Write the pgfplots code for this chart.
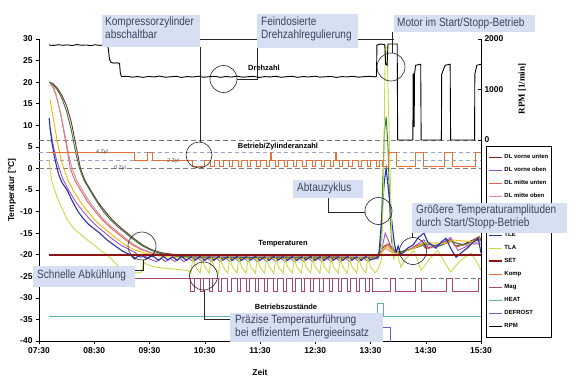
\documentclass[border=0pt]{standalone}
\usepackage{fontspec}
\setmainfont{Liberation Sans}
\newfontfamily\condfont[FakeStretch=0.84]{Liberation Sans}
\newfontfamily\timesf{Liberation Serif}
\usepackage{pgfplots}
\pgfplotsset{compat=1.18}
\definecolor{cVU}{RGB}{122,40,40}
\definecolor{cVO}{RGB}{160,80,200}
\definecolor{cMU}{RGB}{228,96,96}
\definecolor{cMO}{RGB}{215,140,150}
\definecolor{cHU}{RGB}{46,122,58}
\definecolor{cHO}{RGB}{240,184,0}
\definecolor{cTLE}{RGB}{40,50,170}
\definecolor{cTLA}{RGB}{200,218,70}
\definecolor{cSET}{RGB}{140,20,20}
\definecolor{cKomp}{RGB}{228,112,52}
\definecolor{cMag}{RGB}{168,70,110}
\definecolor{cHeat}{RGB}{96,176,176}
\definecolor{cDef}{RGB}{110,90,200}
\definecolor{boxblue}{RGB}{214,224,242}
\definecolor{boxtext}{RGB}{60,68,92}
\definecolor{refgray}{RGB}{125,125,125}
\definecolor{refblue}{RGB}{150,165,195}
\begin{document}
\begin{tikzpicture}
\path[use as bounding box] (0,0) rectangle (584bp,380bp);
\begin{axis}[
  scale only axis, width=442bp, height=302bp,
  at={(39bp,39bp)}, anchor=south west,
  xmin=0, xmax=480, ymin=-40, ymax=30,
  axis x line*=bottom, axis y line*=left, axis line style={-, black, line width=0.6bp},
  xtick={0,60,...,480},
  xticklabels={07:30,08:30,09:30,10:30,11:30,12:30,13:30,14:30,15:30},
  ytick={-40,-35,...,30},
  tick align=outside, major tick length=3bp, tick style={black, line width=0.5bp},
  /pgf/number format/assume math mode=true,
  tick label style={font=\bfseries\fontsize{8.5}{9}\selectfont},
  xlabel={Zeit}, ylabel={Temperatur [°C]},
  label style={font=\bfseries\fontsize{8.5}{9}\selectfont},
  xlabel style={at={(axis description cs:0.5,-0.103)}, anchor=center},
  ylabel style={at={(axis description cs:-0.061,0.5)}, anchor=center},
  legend cell align=left,
  legend style={at={(axis description cs:1.0113,0.6457)}, anchor=north west,
    draw=black, line width=0.5bp, fill=white,
    font=\bfseries\fontsize{6}{6}\selectfont,
    inner xsep=2bp, inner ysep=7bp, row sep=5.1bp,
    nodes={inner sep=1.2bp, text height=4.5bp, text depth=1bp}},
  legend image code/.code={\draw[#1] (0bp,0bp) -- (13bp,0bp);},
  every axis plot/.append style={line width=0.9bp},
]
% reference lines
\addplot[refgray, dashed, line width=0.8bp, dash pattern=on 5bp off 3bp, forget plot] coordinates {(0,6.6) (480,6.6)};
\addplot[refblue, dashed, line width=0.6bp, dash pattern=on 4bp off 3bp, forget plot] coordinates {(0,3.8) (480,3.8)};
\addplot[refblue, dashed, line width=0.6bp, dash pattern=on 4bp off 3bp, forget plot] coordinates {(0,1.8) (480,1.8)};
\addplot[refgray, dashed, line width=0.8bp, dash pattern=on 5bp off 3bp, forget plot] coordinates {(0,0) (480,0)};
\addplot[refgray, dashed, line width=0.8bp, dash pattern=on 5bp off 3bp, forget plot] coordinates {(0,-25.4) (480,-25.4)};

% DL vorne unten
\addplot[cVU] coordinates {(11,20)(15,19.7)(20,18.6)(25,16.9)(30,14.5)(35,10.8)(40,5.5)(45,0)(50,-2.8)(56,-5)(64,-7.8)(72,-10)(80,-12)(88,-13.6)(96,-15)(104,-16.4)(113,-17.8)(122,-18.8)(132,-19.5)(145,-19.9)(160,-20.1)(180,-20.2)(200,-20.4)(230,-20.3)(260,-20.4)(290,-20.3)(320,-20.4)(350,-20.2)(366,-20.2)(370,-19.5)(375,-18)(380,-17.5)(385,-18.8)(392,-19.5)(400,-19)(410,-18)(416,-17.5)(420,-18.5)(430,-18)(440,-17)(447,-16.5)(452,-18)(462,-17.5)(472,-16.5)(478,-15.8)(480,-16.5)};
\addlegendentry{DL vorne unten}
% DL vorne oben
\addplot[cVO] coordinates {(12,9.5)(14,7)(16,4.8)(19,2)(22,0)(26,-2.5)(32,-5)(40,-7.8)(48,-10)(56,-12)(64,-13.6)(72,-15)(80,-16.4)(89,-17.8)(98,-18.8)(105,-19.6)(110,-20.6)(115,-20.3)(120,-21)(127.5,-21.6)(132.5,-20.8)(137.5,-21.6)(142.5,-20.8)(147.5,-21.6)(152.5,-20.8)(157.5,-21.6)(162.5,-20.8)(167.5,-21.6)(172.5,-20.8)(177.5,-21.6)(182.5,-20.8)(187.5,-21.6)(192.5,-20.8)(197.5,-21.6)(202.5,-20.8)(207.5,-21.6)(212.5,-20.8)(217.5,-21.6)(222.5,-20.8)(227.5,-21.6)(232.5,-20.8)(237.5,-21.6)(242.5,-20.8)(247.5,-21.6)(252.5,-20.8)(257.5,-21.6)(262.5,-20.8)(267.5,-21.6)(272.5,-20.8)(277.5,-21.6)(282.5,-20.8)(287.5,-21.6)(292.5,-20.8)(297.5,-21.6)(302.5,-20.8)(307.5,-21.6)(312.5,-20.8)(317.5,-21.6)(322.5,-20.8)(327.5,-21.6)(332.5,-20.8)(337.5,-21.6)(342.5,-20.8)(347.5,-21.6)(352.5,-20.8)(357.5,-21.6)(362.5,-20.8)(368,-21)(372,-19)(376,-15)(380,-17)(385,-19.5)(395,-19.5)(405,-18.5)(418,-16.5)(423,-18.5)(440,-17)(447,-16)(455,-19)(470,-17.5)(480,-17.5)};
\addlegendentry{DL vorne oben}
% DL mitte unten
\addplot[cMU] coordinates {(12,20)(15,19.2)(18,17.5)(21,15)(24,12)(27,8.5)(30,5)(34,0)(39,-2.8)(45,-5)(53,-7.8)(61,-10)(69,-12)(77,-13.6)(85,-15)(93,-16.4)(102,-17.8)(111,-18.8)(122,-19.6)(140,-20.2)(160,-20.6)(200,-20.8)(250,-20.7)(300,-20.9)(350,-20.8)(368,-20.6)(374,-19)(378,-17.5)(384,-19)(392,-19.8)(405,-18.5)(418,-17.2)(422,-18.6)(435,-17.8)(449,-16.8)(453,-18.2)(466,-17.5)(478,-16)(480,-17)};
\addlegendentry{DL mitte unten}
% DL mitte oben
\addplot[cMO] coordinates {(12,19.5)(15,18.8)(18,17.2)(21,15)(24,12.2)(27,9)(30,5.8)(33,2.5)(36,0)(41,-2.8)(47,-5)(55,-7.8)(63,-10)(71,-12)(79,-13.6)(87,-15)(95,-16.4)(104,-17.8)(113,-18.8)(124,-19.6)(140,-20.1)(160,-20.4)(250,-20.5)(350,-20.5)(368,-20.4)(376,-18.5)(384,-19.5)(400,-19)(418,-17.8)(430,-18.2)(447,-17)(465,-17.8)(480,-16.8)};
\addlegendentry{DL mitte oben}
% DL hinten unten (legend row hidden under the annotation box, as in the source)
\addplot[cHU] coordinates {(11,20)(15,19.5)(20,18.2)(25,16.2)(30,13.2)(35,9)(40,3.5)(44,0)(49,-2.8)(55,-5)(63,-7.8)(70,-10)(78,-12)(86,-13.6)(94,-15)(102,-16.4)(111,-17.8)(120,-18.8)(130,-19.6)(145,-20.2)(160,-20.5)(200,-20.6)(250,-20.7)(300,-20.6)(350,-20.7)(368,-20.6)(371,-18)(373,-5)(375,8)(377,12)(379,5)(381,-10)(383,-17)(386,-19.5)(395,-19.2)(410,-18.3)(420,-17.5)(435,-18)(447,-16.8)(460,-17.8)(470,-17)(480,-16.5)};
\addlegendentry{}
% DL hinten oben
\addplot[cHO] coordinates {(12,16)(14,13.5)(16,11)(18,8.5)(21,5)(24,2)(27,0)(31,-2.5)(37,-5)(45,-7.8)(53,-10)(61,-12)(69,-13.6)(77,-15)(85,-16.4)(94,-17.8)(103,-18.8)(114,-19.6)(130,-20.3)(150,-20.7)(200,-20.9)(300,-20.8)(365,-20.8)(372,-19.5)(378,-18)(384,-19.6)(395,-19.5)(410,-18.2)(420,-17.2)(440,-17.4)(450,-16.6)(470,-17)(480,-16)};
\addlegendentry{}
% TLE
\addplot[cTLE, line width=1.1bp] coordinates {(11,11.7)(12,9.5)(14,6)(16.5,3)(19.6,0)(22,-1.8)(25,-3.3)(30.5,-5)(36,-7.5)(42.4,-10)(48,-11.6)(54,-13)(60,-14)(66,-15)(74,-16.6)(83,-18)(91,-19.2)(99,-20)(104,-21)(107,-20.4)(112,-20.2)(117,-20.9)(121,-20.3)(125,-20.5)(130,-21.3)(135,-20.4)(140,-21.2)(145,-20.5)(150,-21.3)(155,-20.4)(160,-21.3)(165,-20.5)(170,-21.2)(175,-20.4)(180,-21.3)(185,-20.5)(190,-21.3)(195,-20.4)(200,-21.2)(205,-20.5)(210,-21.3)(215,-20.4)(220,-21.3)(225,-20.5)(230,-21.2)(235,-20.4)(240,-21.3)(245,-20.5)(250,-21.3)(255,-20.4)(260,-21.2)(265,-20.5)(270,-21.3)(275,-20.4)(280,-21.3)(285,-20.5)(290,-21.2)(295,-20.4)(300,-21.3)(305,-20.5)(310,-21.3)(315,-20.4)(320,-21.2)(325,-20.5)(330,-21.3)(335,-20.4)(340,-21.2)(345,-20.5)(350,-21.3)(355,-20.4)(360,-21.2)(366,-20.8)(369,-20.2)(372,-12)(375,-3)(377,0)(381,-8)(384,-14)(386,-17.5)(388,-19.5)(390,-18)(393,-20)(400,-18.5)(406,-17.8)(412,-16)(418,-15)(422,-17)(431,-18.5)(437,-17)(442,-16.2)(447,-18.5)(453,-20.6)(460,-19.3)(466,-18.3)(472,-17)(477,-16.2)(480,-19.6)};
\addlegendentry{TLE}
% TLA
\addplot[cTLA] coordinates {(11,2)(12.5,-1)(14,-3)(17,-5)(20,-6.8)(24,-8.8)(30.5,-11.8)(38,-14)(45,-15.2)(52,-16.5)(60,-17.8)(68,-19.2)(77,-20.6)(83,-22)(88,-23)(94,-23.8)(100,-24.2)(108,-24.2)(112,-24)(113,-21.8)(118,-22.3)(125,-22.8)(135,-23.1)(150,-23.4)(162,-23.7)(165,-24.3)(167,-20.8)(170,-22.8)(175,-24.3)(177,-20.8)(180,-22.8)(185,-24.3)(187,-20.8)(190,-22.8)(195,-24.3)(197,-20.8)(200,-22.8)(205,-24.3)(207,-20.8)(210,-22.8)(215,-24.3)(217,-20.8)(220,-22.8)(225,-24.3)(227,-20.8)(230,-22.8)(235,-24.3)(237,-20.8)(240,-22.8)(245,-24.3)(247,-20.8)(250,-22.8)(255,-24.3)(257,-20.8)(260,-22.8)(265,-24.3)(267,-20.8)(270,-22.8)(275,-24.3)(277,-20.8)(280,-22.8)(285,-24.3)(287,-20.8)(290,-22.8)(295,-24.3)(297,-20.8)(300,-22.8)(305,-24.3)(307,-20.8)(310,-22.8)(315,-24.3)(317,-20.8)(320,-22.8)(325,-24.3)(327,-20.8)(330,-22.8)(335,-24.3)(337,-20.8)(340,-22.8)(345,-24.3)(347,-20.8)(350,-22.8)(355,-24.3)(357,-20.8)(360,-22.8)(365,-24.2)(368,-23.5)(372,-21)(374,-5)(376,28)(378,28)(380,10)(383,-15)(385,-21)(389,-19.5)(393,-22.9)(398,-21)(407,-19)(415,-23.6)(424,-21)(433,-19)(440,-21.5)(447,-24)(457,-21.5)(469,-19.6)(475,-21.5)(480,-23.6)};
\addlegendentry{TLA}
% SET
\addplot[cSET, line width=2bp] coordinates {(11,-20)(480,-20)};
\addlegendentry{SET}
% Komp (Betrieb / Zylinderanzahl)
\addplot[cKomp] coordinates {(11,3.8)(104,3.8)(104,1.9)(117.5,1.9)(117.5,3.8)(123,3.8)(123,1.9)(167,1.9)(167,0.5)(180,0.5)(180,1.9)(186.5,1.9)(186.5,0.5)(190,0.5)(190,1.9)(196.5,1.9)(196.5,0.5)(200,0.5)(200,1.9)(206.5,1.9)(206.5,0.5)(210,0.5)(210,1.9)(216.5,1.9)(216.5,0.5)(220,0.5)(220,1.9)(226.5,1.9)(226.5,0.5)(230,0.5)(230,1.9)(236.5,1.9)(236.5,0.5)(240,0.5)(240,1.9)(246.5,1.9)(246.5,0.5)(250,0.5)(250,1.9)(251,1.9)(251,3.8)(252.5,3.8)(252.5,1.9)(256.5,1.9)(256.5,0.5)(260,0.5)(260,1.9)(266.5,1.9)(266.5,0.5)(270,0.5)(270,1.9)(276.5,1.9)(276.5,0.5)(280,0.5)(280,1.9)(286.5,1.9)(286.5,0.5)(290,0.5)(290,1.9)(296.5,1.9)(296.5,0.5)(300,0.5)(300,1.9)(306.5,1.9)(306.5,0.5)(310,0.5)(310,1.9)(316.5,1.9)(316.5,0.5)(320,0.5)(320,1.9)(322,1.9)(322,3.8)(323.5,3.8)(323.5,1.9)(326.5,1.9)(326.5,0.5)(330,0.5)(330,1.9)(336.5,1.9)(336.5,0.5)(340,0.5)(340,1.9)(346.5,1.9)(346.5,0.5)(350,0.5)(350,1.9)(356.5,1.9)(356.5,0.5)(360,0.5)(360,1.9)(366.5,1.9)(366.5,0.5)(370,0.5)(370,1.9)(373,1.9)(373,0.5)(379,0.5)(379,3.8)(388,3.8)(388,0.5)(409,0.5)(409,3.8)(418,3.8)(418,0.5)(440,0.5)(440,3.8)(449,3.8)(449,0.5)(474,0.5)(474,3.8)(480,3.8)};
\addlegendentry{Komp}
% Mag
\addplot[cMag] coordinates {(11,-25.4)(165,-25.4)(165,-28.5)(168.5,-28.5)(168.5,-25.4)(175,-25.4)(175,-28.5)(178.5,-28.5)(178.5,-25.4)(185,-25.4)(185,-28.5)(188.5,-28.5)(188.5,-25.4)(195,-25.4)(195,-28.5)(198.5,-28.5)(198.5,-25.4)(205,-25.4)(205,-28.5)(208.5,-28.5)(208.5,-25.4)(215,-25.4)(215,-28.5)(218.5,-28.5)(218.5,-25.4)(225,-25.4)(225,-28.5)(228.5,-28.5)(228.5,-25.4)(235,-25.4)(235,-28.5)(238.5,-28.5)(238.5,-25.4)(245,-25.4)(245,-28.5)(248.5,-28.5)(248.5,-25.4)(255,-25.4)(255,-28.5)(258.5,-28.5)(258.5,-25.4)(265,-25.4)(265,-28.5)(268.5,-28.5)(268.5,-25.4)(275,-25.4)(275,-28.5)(278.5,-28.5)(278.5,-25.4)(285,-25.4)(285,-28.5)(288.5,-28.5)(288.5,-25.4)(295,-25.4)(295,-28.5)(298.5,-28.5)(298.5,-25.4)(305,-25.4)(305,-28.5)(308.5,-28.5)(308.5,-25.4)(315,-25.4)(315,-28.5)(318.5,-28.5)(318.5,-25.4)(325,-25.4)(325,-28.5)(328.5,-28.5)(328.5,-25.4)(335,-25.4)(335,-28.5)(338.5,-28.5)(338.5,-25.4)(345,-25.4)(345,-28.5)(348.5,-28.5)(348.5,-25.4)(355,-25.4)(355,-28.5)(358.5,-28.5)(358.5,-25.4)(362,-25.4)(362,-28.5)(382,-28.5)(382,-25.4)(387,-25.4)(387,-28.5)(409,-28.5)(409,-25.4)(415,-25.4)(415,-28.5)(442,-28.5)(442,-25.4)(449,-25.4)(449,-28.5)(477,-28.5)(477,-25.4)(480,-25.4)};
\addlegendentry{Mag}
% HEAT
\addplot[cHeat] coordinates {(11,-34.3)(368,-34.3)(368,-31.2)(374,-31.2)(374,-34.3)(480,-34.3)};
\addlegendentry{HEAT}
% DEFROST
\addplot[cDef] coordinates {(11,-40.6)(358,-40.6)(358,-36.9)(382,-36.9)(382,-40.6)(480,-40.6)};
\addlegendentry{DEFROST}
\addlegendimage{black, line width=0.9bp}
\addlegendentry{RPM}
\end{axis}

\begin{axis}[
  scale only axis, width=442bp, height=302bp,
  at={(39bp,39bp)}, anchor=south west,
  xmin=0, xmax=480, ymin=-3983, ymax=2000,
  axis x line=none, axis y line*=right, axis line style={-, black, line width=0.6bp},
  ytick={0,1000,2000},
  major tick length=3bp, tick style={black, line width=0.5bp},
  /pgf/number format/assume math mode=true,
  /pgf/number format/1000 sep={},
  tick label style={font=\bfseries\fontsize{8.5}{9}\selectfont},
  ylabel={\timesf\bfseries RPM [1/min]},
  ylabel style={font=\fontsize{9}{10}\selectfont, at={(axis description cs:1.0928,0.834)}, anchor=center},
]
\addplot[black, line width=0.9bp] coordinates {(11,1880)(16,1872)(21,1888)(26,1875)(31,1884)(36,1870)(41,1890)(46,1876)(51,1882)(56,1868)(61,1886)(66,1874)(71,1884)(74.5,1878)(75.5,1780)(76.5,1600)(78,1540)(81,1522)(85,1528)(87.5,1515)(88.3,1330)(89.5,1255)(95,1262)(101,1244)(107,1256)(113,1240)(119,1258)(125,1248)(131,1265)(137,1243)(143,1252)(149,1261)(155,1239)(161,1256)(167,1247)(173,1263)(179,1242)(185,1254)(191,1260)(197,1240)(203,1257)(209,1246)(215,1264)(221,1243)(227,1253)(233,1259)(239,1238)(245,1255)(251,1248)(257,1262)(263,1241)(269,1254)(275,1261)(281,1240)(287,1256)(293,1247)(299,1263)(305,1244)(311,1252)(317,1258)(323,1239)(329,1255)(335,1249)(341,1262)(347,1243)(353,1254)(359,1260)(365,1250)(366.5,1260)(367,1880)(371,1900)(375.5,1890)(376.5,1500)(378,1480)(379,1900)(389,1900)(389.5,0)(406,0)(406.3,1300)(407,1310)(407.4,260)(407.8,1300)(409,1480)(414.5,1500)(415,0)(437,0)(437.3,1300)(441,1480)(446.5,1500)(447,0)(473,0)(473.3,1300)(475.5,1480)(480,1500)};
\end{axis}

\begin{scope}[x=1bp,y=-1bp,shift={(0,-380)}]
\tikzset{leader/.style={draw=black!85, line width=0.6bp},
  boxtxt/.style={font=\condfont\fontsize{12}{13}\selectfont, text=boxtext, align=left, inner sep=0pt, anchor=north west},
  lab/.style={font=\bfseries\fontsize{7.5}{8}\selectfont}}
% leaders and circles
\draw[leader] (200,39) -- (394,39);
\draw[leader] (200,47) -- (200,142);
\draw[leader] (199,155) circle[radius=13bp];
\draw[leader] (257,48) -- (257,79) -- (237,79);
\draw[leader] (223.5,79) circle[radius=13.5bp];
\draw[leader] (392,32) -- (392,53);
\draw[leader] (391,67) circle[radius=14bp];
\draw[leader] (328,198) -- (328,212) -- (365,212);
\draw[leader] (378.5,211) circle[radius=13.5bp];
\draw[leader] (412,233) -- (412,238);
\draw[leader] (413,251) circle[radius=13.5bp];
\draw[leader] (135,270) -- (143,270) -- (143,260);
\draw[leader] (142,246) circle[radius=14bp];
\draw[leader] (204,290) -- (204,319) -- (230,319);
\draw[leader] (203.5,276) circle[radius=14bp];
% in-plot labels
\node[lab] at (264,68) {Drehzahl};
\node[lab] at (278,147) {Betrieb/Zylinderanzahl};
\node[lab] at (283,244) {Temperaturen};
\node[lab] at (286,307) {Betriebszustände};
\node[font=\fontsize{5.5}{6}\selectfont, text=black!70] at (102,152) {4 Zyl};
\node[font=\fontsize{5.5}{6}\selectfont, text=black!70] at (173,161) {2 Zyl};
\node[font=\fontsize{5.5}{6}\selectfont, text=black!70] at (120,168) {0 Zyl};
% boxes
\fill[boxblue] (102,15) rectangle (200,47);
\node[boxtxt] at (105,17) {Kompressorzylinder\\abschaltbar};
\fill[boxblue] (257,14) rectangle (358,48);
\node[boxtxt] at (261,17) {Feindosierte\\Drehzahlregulierung};
\fill[boxblue] (394,15) rectangle (535,32);
\node[boxtxt] at (397,18) {Motor im Start/Stopp-Betrieb};
\fill[boxblue] (293,180) rectangle (363,198);
\node[boxtxt] at (297,183) {Abtauzyklus};
\fill[boxblue] (412,203) rectangle (567,233);
\node[boxtxt] at (416,205) {Größere Temperaturamplituden\\durch Start/Stopp-Betrieb};
\fill[boxblue] (33,266) rectangle (135,287);
\node[boxtxt] at (37,270) {Schnelle Abkühlung};
\fill[boxblue] (230,313) rectangle (383,342);
\node[boxtxt] at (235,315) {Präzise Temperaturführung\\bei effizientem Energieeinsatz};
\end{scope}
\end{tikzpicture}
\end{document}
